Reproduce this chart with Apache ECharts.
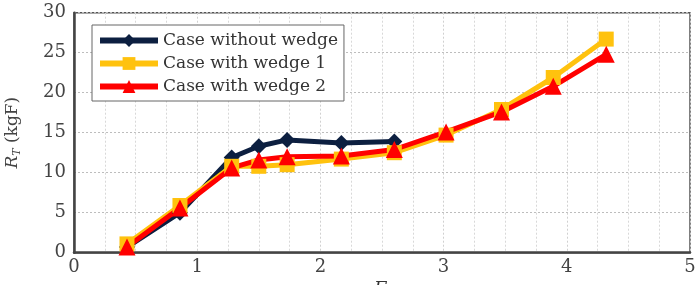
<!DOCTYPE html>
<html>
<head>
<meta charset="utf-8">
<script src="https://cdn.jsdelivr.net/npm/echarts@6/dist/echarts.min.js"></script>
<style>html,body{margin:0;padding:0;background:#fff}#c{width:697px;height:285px}</style>
</head>
<body>
<div id="c"></div>
<script>
const xValues = [0.43, 0.86, 1.28, 1.5, 1.73, 2.17, 2.6, 3.02, 3.47, 3.89, 4.32];
const withoutWedge = [0.7, 5.0, 11.9, 13.3, 14.1, 13.7, 13.9];
const withWedge1 = [1.1, 5.9, 10.8, 10.8, 11.0, 11.7, 12.5, 14.7, 17.9, 21.9, 26.7];
const withWedge2 = [0.7, 5.6, 10.6, 11.6, 12.0, 12.1, 12.9, 15.1, 17.6, 20.8, 24.8];
const seriesNames = ['Case without wedge', 'Case with wedge 1', 'Case with wedge 2'];
const xTicks = [0, 1, 2, 3, 4, 5];
const yTicks = [0, 5, 10, 15, 20, 25, 30];
const xAxisName = 'Fr';

const pair = ys => ys.map((y, i) => [xValues[i], y]);
const font = 'DejaVu Serif';
const chart = echarts.init(document.getElementById('c'));
const mk = (name, data, color, symbol, size) => ({
  name, type: 'line', data: pair(data), symbol, symbolSize: size,
  lineStyle: {color, width: 5}, itemStyle: {color}, color, z: 3
});
chart.setOption({
  animation: false,
  grid: {left: 74, right: 7, top: 12.7, bottom: 32.3, outerBoundsMode: 'none', containLabel: false,
         show: true, borderColor: '#555', borderWidth: 1.5, backgroundColor: 'transparent'},
  legend: {
    orient: 'vertical', left: 92, top: 25, itemWidth: 58, itemHeight: 16, itemGap: 6,
    padding: [7, 6, 6, 5], borderColor: '#666', borderWidth: 1, backgroundColor: '#fff',
    lineStyle: {width: 6},
    textStyle: {fontFamily: font, fontSize: 17, color: '#333'}, data: seriesNames
  },
  graphic: [{
    type: 'text', left: 374, top: 281, silent: true,
    style: {text: xAxisName, fontFamily: font, fontSize: 18, fontStyle: 'italic', fill: '#333'}
  }],
  xAxis: {
    type: 'value', min: 0, max: 5, interval: 1,
    axisLine: {show: true, lineStyle: {color: '#444', width: 2.5}},
    axisTick: {show: false},
    axisLabel: {fontFamily: font, fontSize: 18, color: '#444', margin: 6, formatter: v => xTicks.includes(v) ? String(v) : ''},
    splitLine: {show: true, lineStyle: {color: '#d0d0d0', type: [2, 2], width: 1}},
    minorTick: {show: false, splitNumber: 4},
    minorSplitLine: {show: true, lineStyle: {color: '#d8d8d8', type: [2, 2], width: 1}}
  },
  yAxis: {
    type: 'value', min: 0, max: 30, interval: 5,
    name: '{i|R}{s|T} (kgF)', nameLocation: 'middle', nameGap: 51, nameRotate: 90,
    nameTextStyle: {fontFamily: font, fontSize: 17, color: '#444',
      rich: {i: {fontFamily: font, fontSize: 17, fontStyle: 'italic', color: '#444'},
             s: {fontFamily: font, fontSize: 11, fontStyle: 'italic', color: '#444', verticalAlign: 'bottom', padding: [9, 0, 0, 0]}}},
    axisLine: {show: true, lineStyle: {color: '#444', width: 2.5}},
    axisTick: {show: false},
    axisLabel: {fontFamily: font, fontSize: 18, color: '#444', margin: 8, formatter: v => yTicks.includes(v) ? String(v) : ''},
    splitLine: {show: true, lineStyle: {color: '#bdbdbd', type: [2, 2], width: 1}}
  },
  series: [
    mk(seriesNames[0], withoutWedge, '#0c1f40', 'diamond', 16),
    mk(seriesNames[1], withWedge1, '#ffc20e', 'rect', 15),
    mk(seriesNames[2], withWedge2, '#ff0000', 'triangle', 17)
  ]
});
</script>
</body>
</html>
